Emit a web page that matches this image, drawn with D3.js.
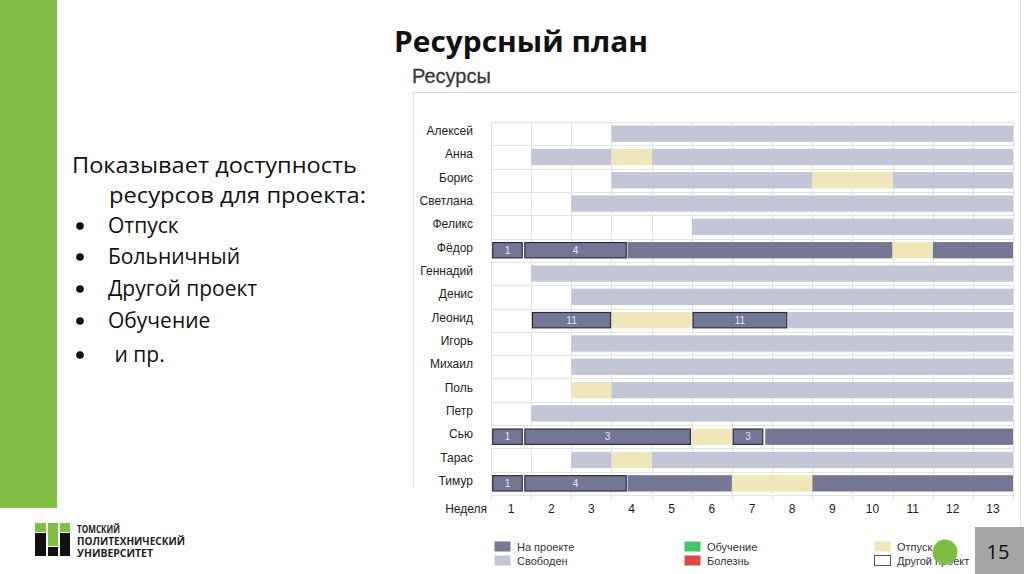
<!DOCTYPE html>
<html><head><meta charset="utf-8">
<script src="https://cdn.jsdelivr.net/npm/d3@7"></script>
<style>html,body{margin:0;padding:0;background:#fff;}svg{display:block;}</style>
</head><body>
<svg id="c" width="1024" height="574"></svg>
<script>
const people = ["Алексей","Анна","Борис","Светлана","Феликс","Фёдор","Геннадий","Денис","Леонид","Игорь","Михаил","Поль","Петр","Сью","Тарас","Тимур"];
const weekLabels = ["1","2","3","4","5","6","7","8","9","10","11","12","13"];
// [name, startWeek, endWeek] in week units (0 = start of week 1)
const freeSegments = [
  ["Алексей",3,13],["Анна",1,3],["Анна",4,13],["Борис",3,8],["Борис",10,13],
  ["Светлана",2,13],["Феликс",5,13],["Геннадий",1,13],["Денис",2,13],
  ["Леонид",7.4,13],["Игорь",2,13],["Михаил",2,13],["Поль",3,13],["Петр",1,13],
  ["Тарас",2,3],["Тарас",4,13]
];
const projectSegments = [
  ["Фёдор",3.4,10],["Фёдор",11,13],["Сью",6.83,13],["Тимур",3.4,6],["Тимур",8,13]
];
const vacationSegments = [
  ["Анна",3,4],["Борис",8,10],["Фёдор",10,11],["Леонид",3,5],["Поль",2,3],
  ["Сью",5,6],["Тарас",3,4],["Тимур",6,8]
];
// other-project assignments: [name, start, end, label]
const otherSegments = [
  ["Фёдор",0.03,0.79,"1"],["Фёдор",0.83,3.38,"4"],
  ["Леонид",1.02,2.99,"11"],["Леонид",5.02,7.38,"11"],
  ["Сью",0.03,0.79,"1"],["Сью",0.83,4.98,"3"],["Сью",6.02,6.78,"3"],
  ["Тимур",0.03,0.79,"1"],["Тимур",0.83,3.38,"4"]
];
const legendItems = [
  ["На проекте","#737793"],["Свободен","#c3c6d6"],
  ["Обучение","#45c468"],["Болезнь","#e04848"],
  ["Отпуск","#efe7b9"],["Другой проект","#ffffff"]
];
const bulletItems = ["Отпуск","Больничный","Другой проект","Обучение"," и пр."];

const svg = d3.select("#c");
const C = {dark:"#737793", free:"#c3c6d6", vac:"#efe7b9", grid:"#e3e3e3"};

// left green band
svg.append("rect").attr("x",0).attr("y",0).attr("width",57).attr("height",508).attr("fill","#80bd45");
// right vertical border
svg.append("line").attr("x1",1020.5).attr("x2",1020.5).attr("y1",0).attr("y2",527).attr("stroke","#e2e2e2");

// slide title
svg.append("text").attr("x",394).attr("y",52).attr("font-family","Open Sans, sans-serif")
  .attr("font-weight","bold").attr("font-size",28).attr("fill","#111")
  .attr("textLength",254).attr("lengthAdjust","spacingAndGlyphs").text("Ресурсный план");

// left text
const ff = "Open Sans, sans-serif";
svg.append("text").attr("x",72).attr("y",173).attr("font-family",ff).attr("font-size",21).attr("fill","#111")
  .attr("textLength",285).attr("lengthAdjust","spacingAndGlyphs").text("Показывает доступность");
svg.append("text").attr("x",109).attr("y",203).attr("font-family",ff).attr("font-size",21).attr("fill","#111")
  .attr("textLength",257).attr("lengthAdjust","spacingAndGlyphs").text("ресурсов для проекта:");
const bulletY = [233,264,296,328,362];
bulletItems.forEach((t,i)=>{
  svg.append("circle").attr("cx",80).attr("cy",bulletY[i]-7).attr("r",3.8).attr("fill","#111");
  svg.append("text").attr("x",i===4?109:108).attr("y",bulletY[i]).attr("font-family",ff).attr("font-size",21)
    .attr("fill","#111").attr("xml:space","preserve").text(t);
});

// logo
const lg = svg.append("g");
lg.append("rect").attr("x",35).attr("y",523).attr("width",11).attr("height",9).attr("fill","#80bd45");
lg.append("rect").attr("x",35).attr("y",533).attr("width",11).attr("height",23).attr("fill","#111");
lg.append("rect").attr("x",48).attr("y",523).attr("width",10).attr("height",23).attr("fill","#80bd45");
lg.append("rect").attr("x",48).attr("y",547).attr("width",10).attr("height",9).attr("fill","#111");
lg.append("rect").attr("x",60).attr("y",523).attr("width",10).attr("height",9).attr("fill","#80bd45");
lg.append("rect").attr("x",60).attr("y",533).attr("width",10).attr("height",23).attr("fill","#111");
[["ТОМСКИЙ",533,43],["ПОЛИТЕХНИЧЕСКИЙ",545,108],["УНИВЕРСИТЕТ",557,76]].forEach(d=>{
  lg.append("text").attr("x",77).attr("y",d[1]).attr("font-family","Open Sans, sans-serif").attr("font-weight","bold")
    .attr("font-size",10.5).attr("fill","#222").attr("textLength",d[2]).attr("lengthAdjust","spacingAndGlyphs").text(d[0]);
});

// chart frame
svg.append("text").attr("x",412).attr("y",83).attr("font-family","Liberation Sans, Arial, sans-serif")
  .attr("font-size",20).attr("fill","#3a3a3a").attr("stroke","#3a3a3a").attr("stroke-width",0.3).text("Ресурсы");
svg.append("line").attr("x1",413).attr("x2",1019).attr("y1",92.5).attr("y2",92.5).attr("stroke","#dcdcdc");
svg.append("line").attr("x1",413.5).attr("x2",413.5).attr("y1",92).attr("y2",488).attr("stroke","#e6e6e6");

const x = d3.scaleLinear().domain([0,13]).range([491,1013]);
const y = d3.scaleBand().domain(people).range([122,495]).paddingInner(0.3).paddingOuter(0.15);
const step = y.step();

// grid
const g = svg.append("g");
d3.range(0,14).forEach(i=>{
  g.append("line").attr("x1",Math.round(x(i))+0.5).attr("x2",Math.round(x(i))+0.5).attr("y1",122).attr("y2",499)
    .attr("stroke",C.grid);
});
d3.range(0,17).forEach(i=>{
  const yy = Math.round(122 + i*step)+0.5;
  g.append("line").attr("x1",491).attr("x2",1013).attr("y1",yy).attr("y2",yy).attr("stroke",C.grid);
});

function drawSegs(arr, fill){
  g.selectAll(null).data(arr).enter().append("rect")
    .attr("x",d=>x(d[1])).attr("width",d=>x(d[2])-x(d[1]))
    .attr("y",d=>y(d[0])).attr("height",y.bandwidth()).attr("fill",fill);
}
drawSegs(freeSegments, C.free);
drawSegs(projectSegments, C.dark);
drawSegs(vacationSegments, C.vac);
g.selectAll(null).data(otherSegments).enter().append("rect")
  .attr("x",d=>x(d[1])+0.5).attr("width",d=>x(d[2])-x(d[1])-1)
  .attr("y",d=>y(d[0])+0.5).attr("height",y.bandwidth()-1)
  .attr("fill",C.dark).attr("stroke","#2e2e40").attr("stroke-width",1.2);
g.selectAll(null).data(otherSegments).enter().append("text")
  .attr("x",d=>(x(d[1])+x(d[2]))/2).attr("y",d=>y(d[0])+y.bandwidth()/2+3.5)
  .attr("text-anchor","middle").attr("font-family","Liberation Sans, Arial, sans-serif")
  .attr("font-size",10).attr("fill","#e6e8f0").text(d=>d[3]);

// row labels
g.selectAll(null).data(people).enter().append("text")
  .attr("x",473).attr("y",d=>y(d)+y.bandwidth()/2+1.5)
  .attr("text-anchor","end").attr("font-family","Liberation Sans, Arial, sans-serif")
  .attr("font-size",12).attr("fill","#222").text(d=>d);

// week axis
g.append("text").attr("x",487).attr("y",513).attr("text-anchor","end")
  .attr("font-family","Liberation Sans, Arial, sans-serif").attr("font-size",12).attr("fill","#222").text("Неделя");
g.selectAll(null).data(weekLabels).enter().append("text")
  .attr("x",(d,i)=>x(i+0.5)).attr("y",513).attr("text-anchor","middle")
  .attr("font-family","Liberation Sans, Arial, sans-serif").attr("font-size",12).attr("fill","#222").text(d=>d);

// legend
const legX = [494,494,684,684,874,874];
const legY = [541,555,541,555,541,555];
legendItems.forEach((d,i)=>{
  svg.append("rect").attr("x",legX[i]+0.5).attr("y",legY[i]+0.5).attr("width",16).attr("height",10)
    .attr("fill",d[1]).attr("stroke",i===5?"#555":"none").attr("stroke-width",1);
  svg.append("text").attr("x",legX[i]+23).attr("y",legY[i]+10).attr("font-family","Liberation Sans, Arial, sans-serif")
    .attr("font-size",11).attr("fill","#333").text(d[0]);
});

// green circle and page number
svg.append("circle").attr("cx",945).attr("cy",552).attr("r",12.5).attr("fill","#7cbd42");
svg.append("rect").attr("x",975).attr("y",527).attr("width",49).attr("height",47).attr("fill","#a6a6a6");
svg.append("text").attr("x",998).attr("y",559).attr("text-anchor","middle").attr("font-family","Open Sans, sans-serif")
  .attr("font-size",20).attr("fill","#111").text("15");
</script>
</body></html>
